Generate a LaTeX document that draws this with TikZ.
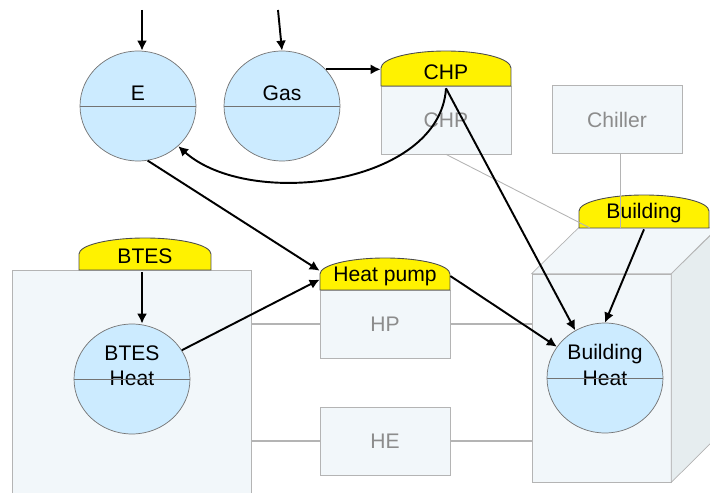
\documentclass[tikz,border=0pt]{standalone}
\usepackage{fontspec}
\setmainfont{Liberation Sans}
\usetikzlibrary{shapes.geometric,arrows.meta}

\definecolor{poolblue}{HTML}{CCEBFF}
\definecolor{boxfill}{HTML}{F2F7FA}
\definecolor{sidefill}{HTML}{E6EDEF}
\definecolor{boxgray}{HTML}{B4B4B4}
\definecolor{textgray}{HTML}{8C8C8C}

\tikzset{
  pool/.style={ellipse, draw=black!55, fill=poolblue, minimum width=2.32cm, minimum height=2.2cm, inner sep=0pt},
  unitbox/.style={rectangle, draw=boxgray, fill=boxfill, text=textgray, minimum width=2.6cm, minimum height=1.36cm, inner sep=0pt},
  capbox/.style={minimum width=2.6cm, minimum height=0.64cm, inner sep=0pt},
  capfill/.style={fill=yellow, draw=black!70, line width=0.5pt},
  flow/.style={-{Latex[length=2mm,width=2mm]}, line width=1.1pt},
  link/.style={draw=boxgray, line width=0.7pt}
}

\begin{document}
\begin{tikzpicture}[x=0.02cm, y=-0.02cm, every node/.style={font=\fontsize{12}{14.4}\selectfont}]

    \useasboundingbox (0,0) rectangle (710,493);
    \clip (0,0) rectangle (710,493);

    % BTES store
    \node[rectangle, draw=boxgray, fill=boxfill, minimum width=4.78cm, minimum height=5cm] (btesbox) at (131.5,395) {};

    % Units
    \node[unitbox] (chp) at (446,120) {CHP};
    \node[unitbox] (chiller) at (617,119.5) {Chiller};
    \node[unitbox] (hp) at (385,324) {HP};
    \node[unitbox] (he) at (385,441) {HE};

    % Building
    \node[rectangle, draw=boxgray, fill=boxfill, minimum width=2.78cm, minimum height=4.16cm] (front) at (601.5,378) {};
    \filldraw[fill=boxfill, draw=boxgray] (front.north west) -- ++(47,-46) -- ++(139,0) -- (front.north east) -- cycle;
    \filldraw[fill=sidefill, draw=boxgray] (front.north east) -- ++(47,-46) -- ++(0,208) -- (front.south east) -- cycle;

    % Links
    \draw[link] (hp.west -| btesbox.east) -- (hp.west);
    \draw[link] (hp.east) -- (hp.east -| front.west);
    \draw[link] (he.west -| btesbox.east) -- (he.west);
    \draw[link] (he.east) -- (he.east -| front.west);

    % Caps
    \filldraw[capfill] (381,86) -- (381,68) arc[start angle=180, end angle=0, x radius=1.3cm, y radius=0.34cm] -- (511,86) -- cycle;
    \node[capbox] (chpcap) at (446,72) {CHP};
    \filldraw[capfill] (579,228) -- (579,211) arc[start angle=180, end angle=0, x radius=1.3cm, y radius=0.32cm] -- (709,228) -- cycle;
    \node[capbox] (bldcap) at (644,213) {Building};
    \filldraw[capfill] (320,290) -- (320,274) arc[start angle=180, end angle=0, x radius=1.3cm, y radius=0.32cm] -- (450,290) -- cycle;
    \node[capbox] (hpcap) at (385,276) {Heat pump};
    \filldraw[capfill] (79,270) -- (79,254) arc[start angle=180, end angle=0, x radius=1.32cm, y radius=0.32cm] -- (211,270) -- cycle;
    \node[capbox] (btescap) at (145,256) {BTES};

    \draw[link, line width=0.5pt] (chp.south) -- (590,228);
    \draw[link] ([xshift=2pt]chiller.south) -- ([xshift=2pt]chiller.south |- bldcap.south);

    % Pools
    \node[pool, label={[yshift=0.26cm]center:E}] (e) at (138,106) {};
    \node[pool, label={[yshift=0.26cm]center:Gas}] (gas) at (282,106) {};
    \node[pool, label={[yshift=0.26cm, align=center]center:BTES\\Heat}] (bh) at (132,379) {};
    \node[pool, label={[yshift=0.26cm, align=center]center:Building\\Heat}] (bdh) at (605,378) {};
    \foreach \p in {e, gas, bh, bdh} \draw[black!55] (\p.west) -- (\p.east);

    % Flows
    \coordinate (ein) at (142,10);
    \coordinate (gasin) at (278,10);
    \draw[flow] (ein) -- (ein |- e.north);
    \draw[flow] (gasin) -- (gas.north);
    \draw[flow] (gas.40) -- (gas.40 -| chpcap.west);
    \draw[flow] (chpcap.south) .. controls (440,185) and (250,210) .. (e.-45);
    \draw[flow] (chpcap.south) -- (bdh.122);
    \draw[flow] (bldcap.south) -- (bdh.north);
    \draw[flow] (e.-80) -- ([yshift=3pt]hpcap.west);
    \draw[flow] (bh.30) -- ([yshift=-2pt]hpcap.west);
    \draw[flow] (hpcap.east) -- (bdh.147);
    \draw[flow] ([xshift=-1.7pt]btescap.south) -- ([xshift=-1.7pt]btescap.south |- bh.north);

\end{tikzpicture}
\end{document}
